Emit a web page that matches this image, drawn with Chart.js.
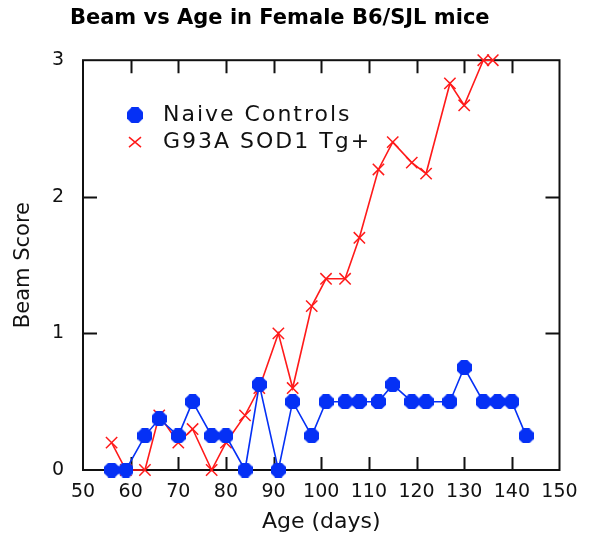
<!DOCTYPE html>
<html><head><meta charset="utf-8">
<script src="https://cdn.jsdelivr.net/npm/chart.js@4.4.1/dist/chart.umd.min.js"></script>
<style>html,body{margin:0;padding:0;background:#fff;} #wrap{width:592px;height:535px;position:relative;}</style>
</head><body><div id="wrap"><canvas id="c" width="592" height="535"></canvas></div>
<script>
const chartTitle = 'Beam vs Age in Female B6/SJL mice';
const xTitle = 'Age (days)';
const yTitle = 'Beam Score';
const seriesNames = ['Naive Controls', 'G93A SOD1 Tg+'];
const controlDays   = [56, 59, 63, 66, 70, 73, 77, 80, 84, 87, 91, 94, 98, 101, 105, 108, 112, 115, 119, 122, 127, 130, 134, 137, 140, 143];
const controlScores = [0, 0, 0.25, 0.375, 0.25, 0.5, 0.25, 0.25, 0, 0.625, 0, 0.5, 0.25, 0.5, 0.5, 0.5, 0.5, 0.625, 0.5, 0.5, 0.5, 0.75, 0.5, 0.5, 0.5, 0.25];
const tgDays   = [56, 59, 63, 66, 70, 73, 77, 80, 84, 87, 91, 94, 98, 101, 105, 108, 112, 115, 119, 122, 127, 130, 134, 136];
const tgScores = [0.2, 0, 0, 0.4, 0.2, 0.3, 0, 0.2, 0.4, 0.6, 1.0, 0.6, 1.2, 1.4, 1.4, 1.7, 2.2, 2.4, 2.25, 2.17, 2.83, 2.67, 3.0, 3.0];
const xTicks = [50, 60, 70, 80, 90, 100, 110, 120, 130, 140, 150];
const yTicks = [0, 1, 2, 3];

const BLUE = '#0530f5';
const RED = '#ff1a1a';

function octagon(size, color) {
  const c = document.createElement('canvas');
  c.width = size; c.height = size;
  const g = c.getContext('2d');
  const s = size, k = s * 0.29;
  g.fillStyle = color;
  g.beginPath();
  g.moveTo(k, 0); g.lineTo(s - k, 0); g.lineTo(s, k); g.lineTo(s, s - k);
  g.lineTo(s - k, s); g.lineTo(k, s); g.lineTo(0, s - k); g.lineTo(0, k);
  g.closePath(); g.fill();
  return c;
}
const blueMark = octagon(15, BLUE);
const blueLegendMark = octagon(16, BLUE);

const framePlugin = {
  id: 'frame',
  beforeDatasetsDraw(chart) {
    const {ctx, chartArea: a, scales: {x, y}} = chart;
    ctx.save();
    ctx.strokeStyle = '#111';
    ctx.lineWidth = 2;
    ctx.strokeRect(a.left, a.top, a.right - a.left, a.bottom - a.top);
    ctx.beginPath();
    x.ticks.forEach(t => {
      const px = Math.round(x.getPixelForValue(t.value)) + 0.5;
      if (px <= a.left + 2 || px >= a.right - 2) return;
      ctx.moveTo(px, a.bottom); ctx.lineTo(px, a.bottom - 13);
      ctx.moveTo(px, a.top); ctx.lineTo(px, a.top + 13);
    });
    y.ticks.forEach(t => {
      const py = Math.round(y.getPixelForValue(t.value)) + 0.5;
      if (py <= a.top + 2 || py >= a.bottom - 2) return;
      ctx.moveTo(a.left, py); ctx.lineTo(a.left + 14, py);
      ctx.moveTo(a.right, py); ctx.lineTo(a.right - 14, py);
    });
    ctx.stroke();
    ctx.restore();
  }
};

const legendPlugin = {
  id: 'insideLegend',
  afterDatasetsDraw(chart) {
    const {ctx, chartArea: a} = chart;
    const mx = a.left + 52, tx = a.left + 80;
    const y1 = a.top + 55, y2 = a.top + 82;
    ctx.save();
    ctx.drawImage(blueLegendMark, mx - 8, y1 - 8);
    ctx.strokeStyle = RED; ctx.lineWidth = 1.5;
    ctx.beginPath();
    ctx.moveTo(mx - 6, y2 - 5); ctx.lineTo(mx + 6, y2 + 5);
    ctx.moveTo(mx + 6, y2 - 5); ctx.lineTo(mx - 6, y2 + 5);
    ctx.stroke();
    ctx.fillStyle = '#111';
    ctx.font = '22px "DejaVu Sans"';
    try { ctx.letterSpacing = '2px'; } catch (e) {}
    ctx.textBaseline = 'middle';
    ctx.textAlign = 'left';
    ctx.fillText(seriesNames[0], tx, y1);
    ctx.fillText(seriesNames[1], tx, y2);
    ctx.restore();
  }
};

new Chart(document.getElementById('c'), {
  type: 'scatter',
  data: {
    datasets: [
      {
        label: seriesNames[0],
        data: controlDays.map((d, i) => ({x: d, y: controlScores[i]})),
        showLine: true,
        borderColor: BLUE,
        borderWidth: 1.6,
        pointStyle: blueMark,
        pointBackgroundColor: BLUE,
        pointBorderColor: BLUE,
        clip: false
      },
      {
        label: seriesNames[1],
        data: tgDays.map((d, i) => ({x: d, y: tgScores[i]})),
        showLine: true,
        borderColor: RED,
        borderWidth: 1.6,
        pointStyle: 'crossRot',
        pointRadius: 8,
        pointBorderWidth: 1.5,
        pointBorderColor: RED,
        clip: false
      }
    ]
  },
  options: {
    responsive: false,
    animation: false,
    events: [],
    layout: {padding: {left: 0, right: 32.5, top: 0, bottom: 0}},
    plugins: {
      legend: {display: false},
      tooltip: {enabled: false},
      title: {
        display: true,
        text: chartTitle,
        color: '#000',
        font: {family: '"DejaVu Sans"', size: 21, weight: 'bold'},
        padding: {top: 6, bottom: 29}
      }
    },
    scales: {
      x: {
        type: 'linear',
        min: 50, max: 150,
        afterBuildTicks(s) { s.ticks = xTicks.map(v => ({value: v})); },
        afterFit(s) { s.height = 65; },
        grid: {display: false},
        border: {display: false},
        ticks: {color: '#111', padding: 3, maxRotation: 0, autoSkip: false,
                font: {family: '"DejaVu Sans"', size: 19}},
        title: {display: true, text: xTitle, color: '#111',
                font: {family: '"DejaVu Sans"', size: 22}, padding: {top: 0, bottom: 0}}
      },
      y: {
        type: 'linear',
        min: 0, max: 3,
        afterBuildTicks(s) { s.ticks = yTicks.map(v => ({value: v})); },
        afterFit(s) { s.width = 83; },
        grid: {display: false},
        border: {display: false},
        ticks: {color: '#111', padding: 11,
                font: {family: '"DejaVu Sans"', size: 19}},
        title: {display: true, text: yTitle, color: '#111',
                font: {family: '"DejaVu Sans"', size: 21}, padding: {top: 11, bottom: 0}}
      }
    }
  },
  plugins: [framePlugin, legendPlugin]
});
</script>
</body></html>
